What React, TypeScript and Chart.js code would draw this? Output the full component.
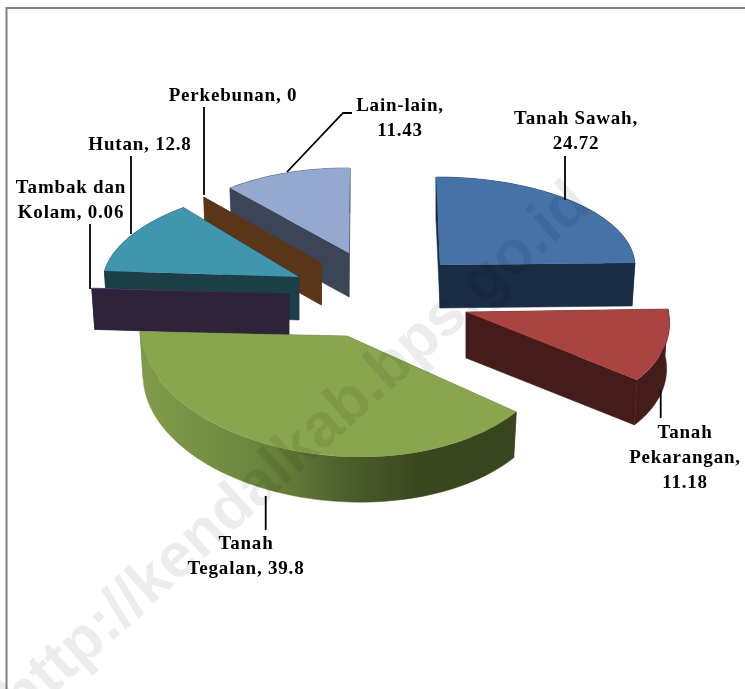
import React, { useEffect, useRef } from "react";
import { Chart, registerables } from "chart.js";

Chart.register(...registerables);

const categories = ["Tanah Sawah", "Tanah Pekarangan", "Tanah Tegalan", "Tambak dan Kolam", "Hutan", "Perkebunan", "Lain-lain"];
const values = [24.72, 11.18, 39.8, 0.06, 12.8, 0, 11.43];
const topColors = ["#4572A7", "#A94442", "#89A54E", "#71588F", "#4096AE", "#DB843D", "#93A9CF"];
const wallColors = ["#1B2C45", "#451C1A", "#5A7034", "#2D233B", "#1B3E47", "#5A3618", "#3C4557"];

// how each exploded, tilted slice sits on the page: apex, right (3 o'clock) and up (12 o'clock) vectors
const slicePlacement = [
  { a: [440, 265], r: [195, -0.5], u: [-4, -88], depth: 43 },
  { a: [466, 312], r: [202.4, -1.1], u: [-22.6, -108.8], depth: 46 },
  { a: [347, 336], r: [206.5, -0.8], u: [-14.8, -121], depth: 47 },
  { a: [289, 294], r: [198, 1.6], u: [15, -90], depth: 41 },
  { a: [299, 277], r: [195.7, 1.5], u: [17.6, -91], depth: 43 },
  { a: [321.5, 263], r: [179, 0], u: [0, -87.5], depth: 42 },
  { a: [349, 253], r: [182, 1.5], u: [1, -85], depth: 44 },
];
const paintOrder = [6, 5, 4, 3, 2, 0, 1];
const bottomScale = 0.985;

const labelWrap = [[2, 1], [1, 1, 1], [1, 2], [2, 2], [2], [2], [1, 1]];
const labelCenter = [[576, 119], [685, 433], [246, 544], [71, 188], [140, 145], [233, 96], [400, 106]];
const leaders = [
  [[565, 200], [565, 156]],
  [[660.7, 390], [660.7, 418]],
  [[265.7, 496], [265.7, 530]],
  [[90, 289], [90, 224]],
  [[131, 234], [131, 156]],
  [[204, 195], [204, 107]],
  [[287, 172], [343, 113], [352, 113]],
];
const watermark = "http://kendalkab.bps.go.id";

const pie3d = {
  id: "pie3d",
  beforeDatasetDraw() {
    return false;
  },
  afterDatasetsDraw(chart: any) {
    const ctx: CanvasRenderingContext2D = chart.ctx;
    const arcs = chart.getDatasetMeta(0).data;

    ctx.save();
    ctx.strokeStyle = "#808080";
    ctx.lineWidth = 2;
    ctx.beginPath();
    ctx.moveTo(6.5, 689);
    ctx.lineTo(6.5, 8);
    ctx.lineTo(745, 8);
    ctx.stroke();
    ctx.restore();

    paintOrder.forEach((i) => {
      const arc = arcs[i];
      const p = slicePlacement[i];
      const top = (alpha: number) => [
        p.a[0] + p.r[0] * Math.cos(alpha) - p.u[0] * Math.sin(alpha),
        p.a[1] + p.r[1] * Math.cos(alpha) - p.u[1] * Math.sin(alpha),
      ];
      const down = (pt: number[]) => [
        p.a[0] + (pt[0] - p.a[0]) * bottomScale,
        p.a[1] + p.depth + (pt[1] - p.a[1]) * bottomScale,
      ];
      const poly = (pts: number[][], fill: any) => {
        ctx.fillStyle = fill;
        ctx.strokeStyle = fill;
        ctx.lineWidth = 0.5;
        ctx.beginPath();
        pts.forEach((q, k) => (k ? ctx.lineTo(q[0], q[1]) : ctx.moveTo(q[0], q[1])));
        ctx.closePath();
        ctx.fill();
        ctx.stroke();
      };
      const wall: any = wallColors[i];
      let outer: any = wall;
      if (categories[i] === "Tanah Tegalan") {
        const g = ctx.createLinearGradient(140, 0, 516, 0);
        g.addColorStop(0, "#7F9B4A");
        g.addColorStop(0.27, "#6E8A40");
        g.addColorStop(0.4, "#627A37");
        g.addColorStop(0.56, "#4B5D2A");
        g.addColorStop(0.74, "#39471F");
        g.addColorStop(1, "#38451E");
        outer = g;
      }
      const s = arc.startAngle;
      const e = arc.endAngle;
      const edge = (alpha: number) => {
        const o = top(alpha);
        poly([p.a, o, down(o), down(p.a)], wall);
      };
      edge(e);
      edge(s);
      if (e - s > 0.001) {
        const pts: number[][] = [];
        const n = 48;
        for (let k = 0; k <= n; k++) pts.push(top(s + ((e - s) * k) / n));
        poly(pts.concat(pts.slice().reverse().map(down)), outer);
      }

      const r = arc.outerRadius;
      const ma = p.r[0] / r;
      const mb = p.r[1] / r;
      const mc = -p.u[0] / r;
      const md = -p.u[1] / r;
      ctx.save();
      ctx.transform(ma, mb, mc, md, p.a[0] - ma * arc.x - mc * arc.y, p.a[1] - mb * arc.x - md * arc.y);
      arc.draw(ctx);
      ctx.restore();
    });

    ctx.save();
    ctx.strokeStyle = "#000";
    ctx.lineWidth = 1.8;
    leaders.forEach((l) => {
      ctx.beginPath();
      l.forEach((q, k) => (k ? ctx.lineTo(q[0], q[1]) : ctx.moveTo(q[0], q[1])));
      ctx.stroke();
    });
    ctx.fillStyle = "#000";
    ctx.font = 'bold 19px "Liberation Serif"';
    (ctx as any).letterSpacing = "0.8px";
    ctx.textAlign = "center";
    ctx.textBaseline = "middle";
    categories.forEach((c, i) => {
      const words = `${c}, ${values[i]}`.split(" ");
      let w = 0;
      labelWrap[i].forEach((count, line) => {
        ctx.fillText(words.slice(w, w + count).join(" "), labelCenter[i][0], labelCenter[i][1] + line * 25);
        w += count;
      });
    });
    ctx.restore();

    ctx.save();
    ctx.translate(22, 722);
    ctx.rotate((-42 * Math.PI) / 180);
    ctx.fillStyle = "rgba(0,0,0,0.075)";
    ctx.font = 'bold 62px "Liberation Sans"';
    ctx.textAlign = "left";
    ctx.textBaseline = "alphabetic";
    ctx.fillText(watermark, 0, 0);
    ctx.restore();
  },
};

export default function App() {
  const ref = useRef<HTMLCanvasElement>(null);
  useEffect(() => {
    const chart = new Chart(ref.current as HTMLCanvasElement, {
      type: "pie",
      data: {
        labels: categories,
        datasets: [{ data: values, backgroundColor: topColors, borderWidth: 0, clip: false } as any],
      },
      options: {
        animation: false,
        responsive: false,
        rotation: 0,
        plugins: { legend: { display: false }, tooltip: { enabled: false } },
      },
      plugins: [pie3d as any],
    });
    return () => chart.destroy();
  }, []);
  return (
    <div style={{ position: "absolute", left: 0, top: 0, width: 745, height: 689, background: "#fff", overflow: "hidden" }}>
      <canvas ref={ref} width={745} height={689} style={{ display: "block" }} />
    </div>
  );
}
